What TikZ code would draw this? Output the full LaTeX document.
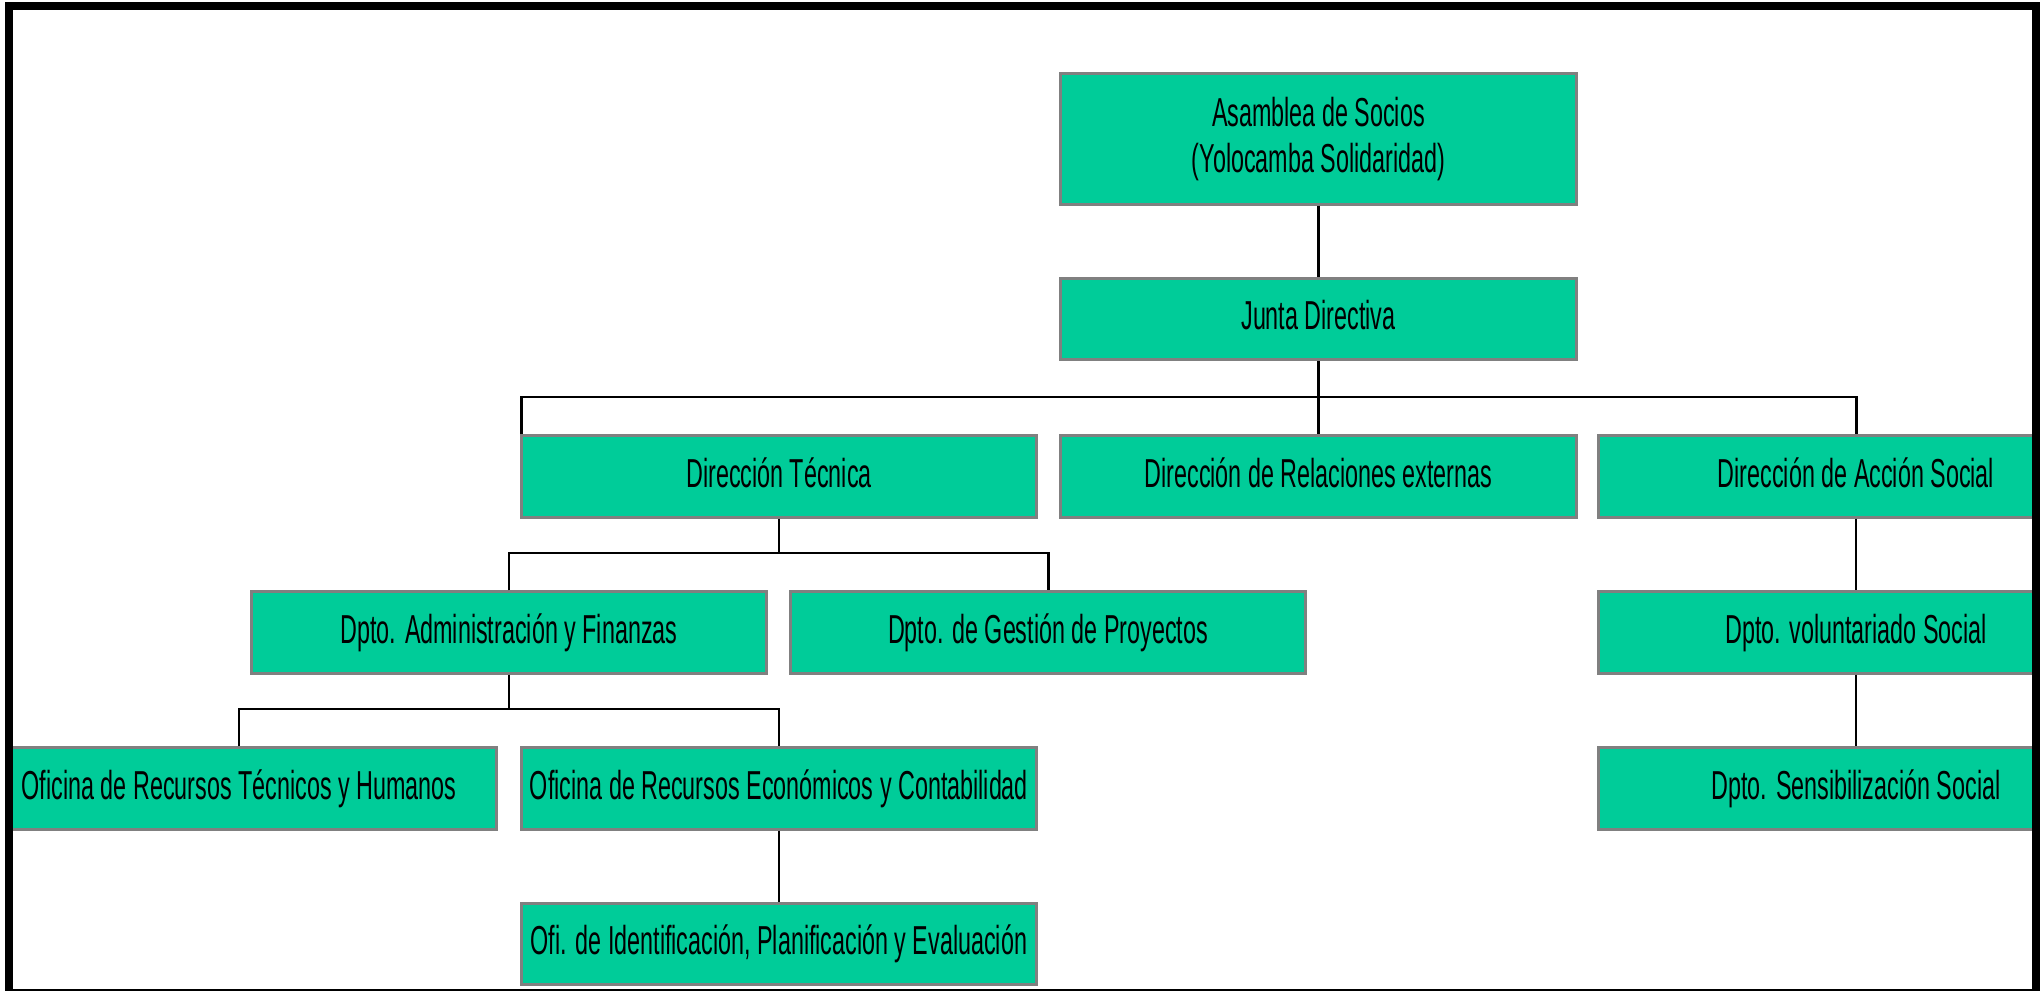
\documentclass[tikz,border=0pt]{standalone}
\usepackage{fontspec}
\setmainfont{Liberation Sans}[FakeStretch=0.577]
\definecolor{boxgreen}{RGB}{0,204,153}
\definecolor{boxline}{RGB}{128,128,128}
\tikzset{
  unit/.style={draw=boxline, line width=0.85pt, fill=boxgreen, minimum width=5.15cm, minimum height=0.81cm, inner sep=0pt, font=\fontsize{11.5}{13.3}\selectfont, align=center, text height=8.3pt, text depth=2.3pt},
  link/.style={line width=0.6pt},
  bus/.style={line width=0.85pt}
}

\begin{document}
\begin{tikzpicture}[x=0.01cm,y=-0.01cm]
\useasboundingbox (0,0) rectangle (2041,991);
\begin{scope}
\clip (9,6) rectangle (2036,993);
\node[unit, minimum height=1.3cm, text height={}, text depth={}] (asamblea) at (1318.5,139) {Asamblea de Socios\\(Yolocamba Solidaridad)};
\node[unit] (junta) at (1318.5,319) {Junta Directiva};
\node[unit] (dirtec) at (779,476.5) {Dirección Técnica};
\node[unit] (relext) at (1318.5,476.5) {Dirección de Relaciones externas};
\node[unit] (accsoc) at (1856,476.5) {Dirección de Acción Social};
\node[unit] (admin) at (509,632.5) {Dpto. Administración y Finanzas};
\node[unit] (gestion) at (1048,632.5) {Dpto. de Gestión de Proyectos};
\node[unit] (volun) at (1856,632.5) {Dpto. voluntariado Social};
\node[unit] (ofitec) at (239,788.5) {Oficina de Recursos Técnicos y Humanos};
\node[unit] (ofieco) at (779,788.5) {Oficina de Recursos Económicos y Contabilidad};
\node[unit] (sensib) at (1856,788.5) {Dpto. Sensibilización Social};
\node[unit] (ofiid) at (779,944) {Ofi. de Identificación, Planificación y Evaluación};

\coordinate (bus1) at (1318.5,397);
\coordinate (bus2) at (779,553);
\coordinate (bus3) at (509,709);

\draw[link] (asamblea) -- (junta);
\draw[link] (junta) -- (relext);
\draw[bus] ([xshift=0.02cm]dirtec.north west) |- (bus1) -| (accsoc.north);
\draw[link] (dirtec) -- (bus2);
\draw[bus] (admin.north) |- (bus2) -| (gestion.north);
\draw[link] (admin) -- (bus3);
\draw[bus] (ofitec.north) |- (bus3) -| (ofieco.north);
\draw[link] (ofieco) -- (ofiid);
\draw[link] (accsoc) -- (volun);
\draw[link] (volun) -- (sensib);
\end{scope}
\draw[line width=0.08cm] (9,6) rectangle (2036,993);
\end{tikzpicture}
\end{document}
